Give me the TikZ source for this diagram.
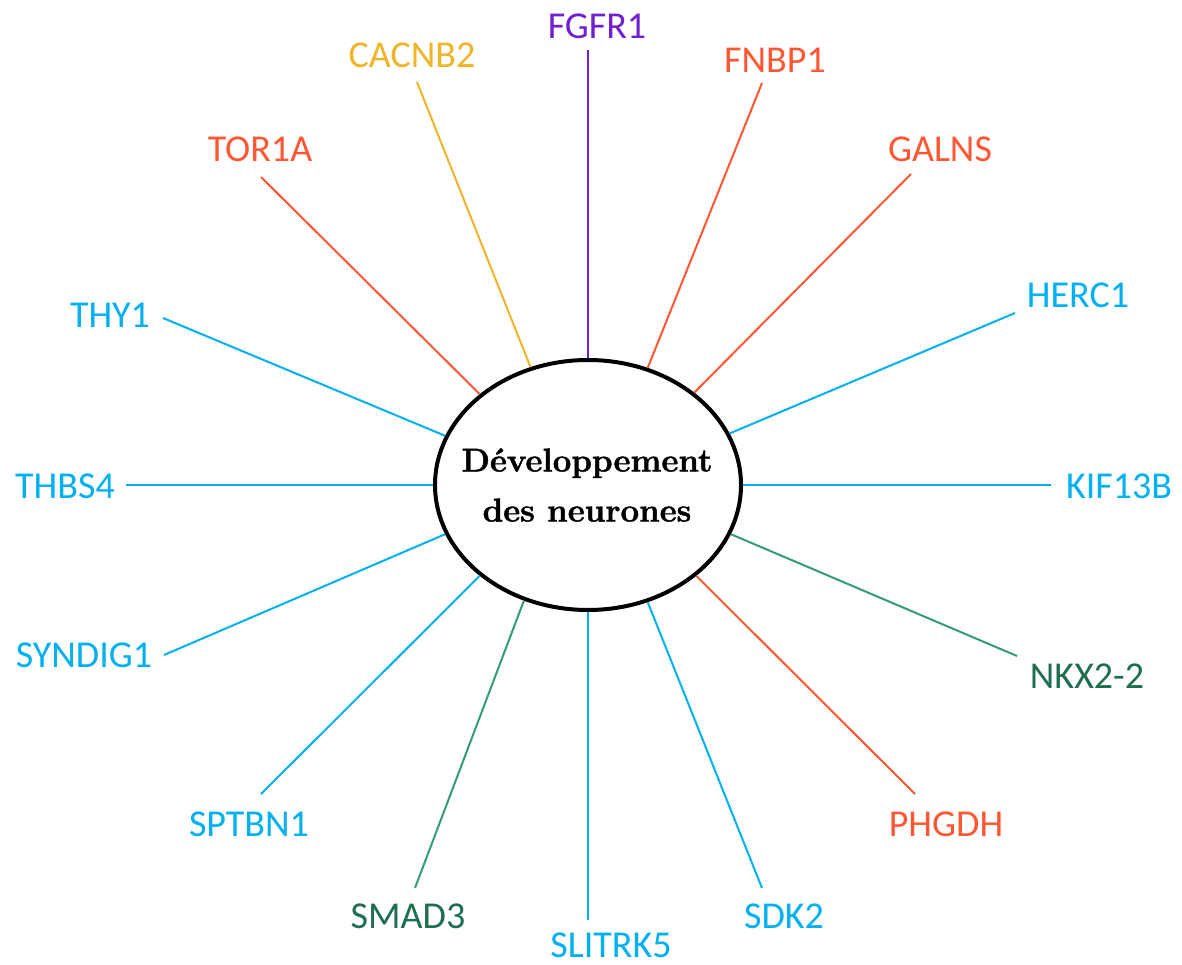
\documentclass[tikz,border=0pt]{standalone}
\usepackage{fontspec}
\setsansfont{Carlito}
\newfontfamily\hubfont{Latin Modern Roman}[BoldFeatures={FakeBold=1.3}]
\usetikzlibrary{shapes.geometric}
\definecolor{cblue}{RGB}{0,176,240}
\definecolor{cred}{RGB}{255,87,51}
\definecolor{cgold}{RGB}{240,180,40}
\definecolor{cpurple}{RGB}{112,32,208}
\definecolor{cgreentxt}{RGB}{30,110,80}
\definecolor{cgreenline}{RGB}{50,155,120}
\tikzset{
  gene/.style={inner sep=0pt, font=\sffamily\fontsize{38}{44}\selectfont},
  link/.style={line width=2pt},
  hub/.style={ellipse, draw=black, line width=4pt, fill=white, inner sep=0pt,
    minimum width=306pt, minimum height=250pt},
  hubtext/.style={inner sep=0pt, align=center,
    font=\hubfont\fontsize{33}{50}\selectfont\bfseries}
}
\begin{document}
\begin{tikzpicture}[x=1pt,y=-1pt]
\useasboundingbox (0,0) rectangle (1182,965);
\node[hub] (c) at (588,485) {};
\node[hubtext] (ct) at (587,485) {Développement\\des neurones};
% labels
\node[gene, text=cpurple] (fgfr1) at (597,26) {FGFR1};
\node[gene, text=cgold] (cacnb2) at (412,55) {CACNB2};
\node[gene, text=cred] (fnbp1) at (775,60) {FNBP1};
\node[gene, text=cred] (tor1a) at (260,149) {TOR1A};
\node[gene, text=cred] (galns) at (940,149) {GALNS};
\node[gene, text=cblue] (thy1) at (110,315) {THY1};
\node[gene, text=cblue] (herc1) at (1078,295) {HERC1};
\node[gene, text=cblue] (thbs4) at (65,486) {THBS4};
\node[gene, text=cblue] (kif13b) at (1119,486) {KIF13B};
\node[gene, text=cblue] (syndig1) at (84,655) {SYNDIG1};
\node[gene, text=cgreentxt] (nkx22) at (1087,676) {NKX2-2};
\node[gene, text=cblue] (sptbn1) at (249,824) {SPTBN1};
\node[gene, text=cred] (phgdh) at (946,824) {PHGDH};
\node[gene, text=cgreentxt] (smad3) at (408,916) {SMAD3};
\node[gene, text=cblue] (sdk2) at (784,916) {SDK2};
\node[gene, text=cblue] (slitrk5) at (611,945) {SLITRK5};
% line end points near labels
\coordinate (pfgfr1) at (588,50);
\coordinate (pcacnb2) at (417,82);
\coordinate (pfnbp1) at (762,83);
\coordinate (ptor1a) at (261,177);
\coordinate (pgalns) at (911,174);
\coordinate (pthy1) at (163,318);
\coordinate (pherc1) at (1015,313);
\coordinate (pthbs4) at (126,485);
\coordinate (pkif13b) at (1051,485);
\coordinate (psyndig1) at (164,655);
\coordinate (pnkx22) at (1017,656);
\coordinate (psptbn1) at (261,794);
\coordinate (pphgdh) at (915,794);
\coordinate (psmad3) at (415,888);
\coordinate (psdk2) at (762,888);
\coordinate (pslitrk5) at (588,920);
% connectors
\draw[link, cpurple] (pfgfr1) -- (c.90);
\draw[link, cgold] (pcacnb2) -- (c.116);
\draw[link, cred] (pfnbp1) -- (c.63);
\draw[link, cred] (ptor1a) -- (c.140);
\draw[link, cred] (pgalns) -- (c.41);
\draw[link, cblue] (pthy1) -- (c.161);
\draw[link, cblue] (pherc1) -- (c.20);
\draw[link, cblue] (pthbs4) -- (c.180);
\draw[link, cblue] (pkif13b) -- (c.0);
\draw[link, cblue] (psyndig1) -- (c.199);
\draw[link, cgreenline] (pnkx22) -- (c.-19);
\draw[link, cblue] (psptbn1) -- (c.220);
\draw[link, cred] (pphgdh) -- (c.-40);
\draw[link, cgreenline] (psmad3) -- (c.241);
\draw[link, cblue] (psdk2) -- (c.-63);
\draw[link, cblue] (pslitrk5) -- (c.-90);
\end{tikzpicture}
\end{document}
